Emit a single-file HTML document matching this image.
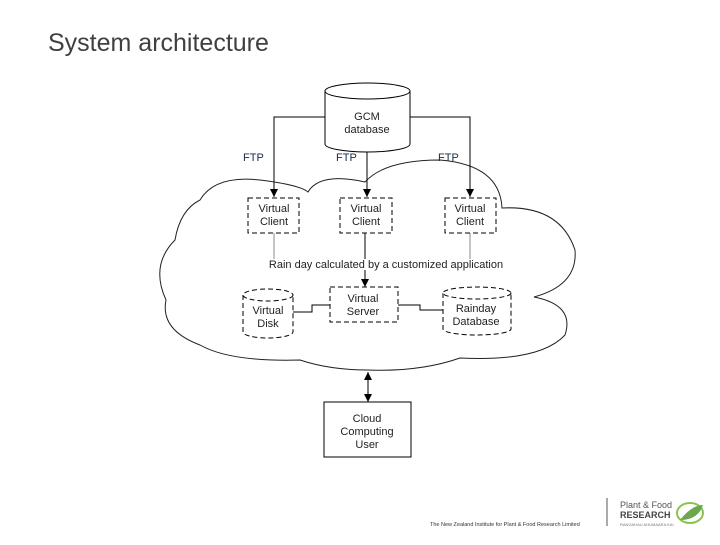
<!DOCTYPE html>
<html><head><meta charset="utf-8"><style>
body{margin:0;width:720px;height:540px;background:#fff;overflow:hidden;font-family:"Liberation Sans",sans-serif}
</style></head><body>
<svg width="720" height="540" xmlns="http://www.w3.org/2000/svg" font-family="Liberation Sans, sans-serif">
<text x="48" y="51" font-size="25" fill="#404040">System architecture</text>
<defs><marker id="a" markerWidth="8" markerHeight="8" refX="4" refY="7" orient="auto-start-reverse" markerUnits="userSpaceOnUse"><path d="M0,0 L8,0 L4,8 Z" fill="#000" transform="rotate(0)"/></marker>
<marker id="b" markerWidth="10" markerHeight="10" refX="8" refY="4" orient="auto-start-reverse" markerUnits="userSpaceOnUse"><path d="M0,0 L8,4 L0,8 Z" fill="#000"/></marker></defs>
<!-- cloud -->
<path d="M200,200 Q215,175 260,180 Q300,185 308,192 Q320,172 365,182 Q385,160 440,160 Q500,165 502,208 Q560,205 575,250 Q578,285 534,297 Q575,305 565,335 Q540,362 460,358 Q420,372 368,370 Q330,370 300,360 Q230,362 200,345 Q160,330 166,300 Q150,265 175,240 Q180,210 200,200 Z" fill="none" stroke="#222" stroke-width="1"/>
<!-- GCM cylinder -->
<path d="M325,91 L325,144 A42.5,8 0 0 0 410,144 L410,91" fill="#fff" stroke="#000"/>
<ellipse cx="367.5" cy="91" rx="42.5" ry="8" fill="#fff" stroke="#000"/>
<text x="367" y="120" font-size="11" text-anchor="middle" fill="#222">GCM</text>
<text x="367" y="133" font-size="11" text-anchor="middle" fill="#222">database</text>
<g stroke="#000" fill="none" stroke-width="1">
<path d="M325,117 H274 V197" marker-end="url(#b)"/>
<path d="M367,152 V197" marker-end="url(#b)"/>
<path d="M410,117 H470 V197" marker-end="url(#b)"/>
<path d="M274,233 V260 H470 V233" stroke="#888"/>
<path d="M365,233 V287" marker-end="url(#b)"/>
<path d="M293,312 H312 V305 H330"/>
<path d="M398,305 H420 V310 H443"/>
<path d="M368,372 V402" marker-start="url(#b)" marker-end="url(#b)"/>
</g>
<g font-size="11" fill="#1a2a4a"><text x="243" y="161">FTP</text><text x="336" y="161">FTP</text><text x="438" y="161">FTP</text></g>
<g fill="#fff" stroke="#000" stroke-dasharray="5,3">
<rect x="248" y="198" width="51" height="35"/><rect x="340" y="198" width="52" height="35"/><rect x="445" y="198" width="51" height="35"/>
<rect x="330" y="287" width="68" height="35"/>
<path d="M243,295 V332 A25,6 0 0 0 293,332 V295"/><ellipse cx="268" cy="295" rx="25" ry="6"/>
<path d="M443,293 V329 A34,6 0 0 0 511,329 V293"/><ellipse cx="477" cy="293" rx="34" ry="6"/>
</g>
<rect x="256" y="259" width="260" height="11" fill="#fff"/>
<g font-size="11" fill="#222" text-anchor="middle">
<text x="274" y="212">Virtual</text><text x="274" y="225">Client</text>
<text x="366" y="212">Virtual</text><text x="366" y="225">Client</text>
<text x="470" y="212">Virtual</text><text x="470" y="225">Client</text>
<text x="363" y="302">Virtual</text><text x="363" y="315">Server</text>
<text x="268" y="314">Virtual</text><text x="268" y="327">Disk</text>
<text x="476" y="312">Rainday</text><text x="476" y="325">Database</text>
<text x="386" y="268">Rain day calculated  by a customized application</text>
<text x="367" y="422">Cloud</text><text x="367" y="435">Computing</text><text x="367" y="448">User</text>
</g>
<rect x="324" y="402" width="87" height="55" fill="none" stroke="#000"/>
<text x="430" y="526" font-size="5.5" fill="#333">The New Zealand Institute for Plant &amp; Food Research Limited</text>
<line x1="607" y1="498" x2="607" y2="526" stroke="#555"/>
<text x="620" y="508" font-size="9" fill="#555">Plant &amp; Food</text>
<text x="620" y="518" font-size="9" font-weight="bold" fill="#444">RESEARCH</text>
<text x="620" y="526" font-size="4" fill="#777">RANGAHAU AHUMAARA KAI</text>
<ellipse cx="690" cy="513" rx="13" ry="10" fill="none" stroke="#8bc34a" stroke-width="2"/>
<path d="M680,520 Q692,505 703,505 Q698,520 680,520Z" fill="#6aa84f"/>
</svg>
</body></html>
